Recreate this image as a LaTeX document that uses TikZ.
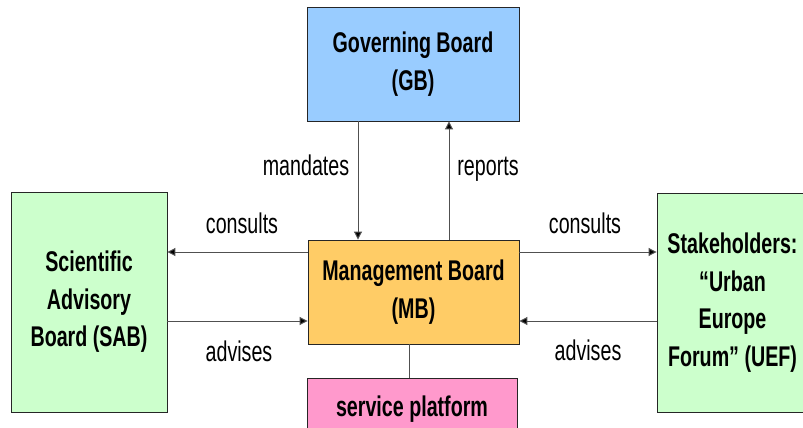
\documentclass[tikz,border=0pt]{standalone}
\usepackage{fontspec}
\setmainfont[FakeStretch=0.69]{Liberation Sans}
\usetikzlibrary{arrows.meta}
\definecolor{gbblue}{HTML}{99CCFF}
\definecolor{advgreen}{HTML}{CCFFCC}
\definecolor{mborange}{HTML}{FFCC66}
\definecolor{sppink}{HTML}{FF99CC}
\definecolor{lineg}{HTML}{505050}
\tikzset{
  boardbox/.style={draw=black!85, line width=0.9pt, rectangle, inner sep=0pt, align=center,
    font=\fontsize{28.5}{37.5}\selectfont\bfseries},
  lbl/.style={anchor=base, inner sep=0pt, font=\fontsize{28.5}{37.5}\selectfont},
  conn/.style={draw=lineg, line width=1pt, -{Triangle[length=8pt,width=8pt,fill=black]}},
  plainconn/.style={draw=lineg, line width=1pt}
}
\begin{document}
\begin{tikzpicture}[x=1pt,y=-1pt]
\useasboundingbox (0,0) rectangle (803,428);
\clip (0,0) rectangle (803,428);
\fill[white] (0,0) rectangle (803,428);

\node[boardbox, fill=gbblue, minimum width=212pt, minimum height=114pt] (gb) at (413,64) {Governing Board\\(GB)};
\node[boardbox, fill=mborange, minimum width=211pt, minimum height=104pt] (mb) at (413.5,292) {Management Board\\(MB)};
\node[boardbox, fill=advgreen, minimum width=156pt, minimum height=220pt] (sab) at (89,302) {Scientific\\Advisory\\Board (SAB)};
\node[boardbox, fill=advgreen, minimum width=151pt, minimum height=219pt] (uef) at (732.5,302.5) {Stakeholders:\\``Urban\\Europe\\Forum'' (UEF)};
\node[boardbox, fill=sppink, minimum width=210pt, minimum height=63pt] (sp) at (412,409.5) {service platform};

% vertical connectors
\draw[conn] (gb.south -| 358,0) -- (mb.north -| 358,0);
\draw[conn] (mb.north -| 449,0) -- (gb.south -| 449,0);
% left connectors
\draw[conn] (mb.west |- 0,252) -- (sab.east |- 0,252);
\draw[conn] (sab.east |- 0,321) -- (mb.west |- 0,321);
% right connectors
\draw[conn] (mb.east |- 0,252) -- (uef.west |- 0,252);
\draw[conn] (uef.west |- 0,321) -- (mb.east |- 0,321);
% platform link
\draw[plainconn] (mb.south -| 409,0) -- (sp.north -| 409,0);

% labels
\node[lbl] (lmand) at (306,175) {mandates};
\node[lbl] (lrep) at (488,175) {reports};
\node[lbl] (lconsl) at (242,233) {consults};
\node[lbl] (ladvl) at (239,361) {advises};
\node[lbl] (lconsr) at (585,233) {consults};
\node[lbl] (ladvr) at (588,360) {advises};
\end{tikzpicture}
\end{document}
